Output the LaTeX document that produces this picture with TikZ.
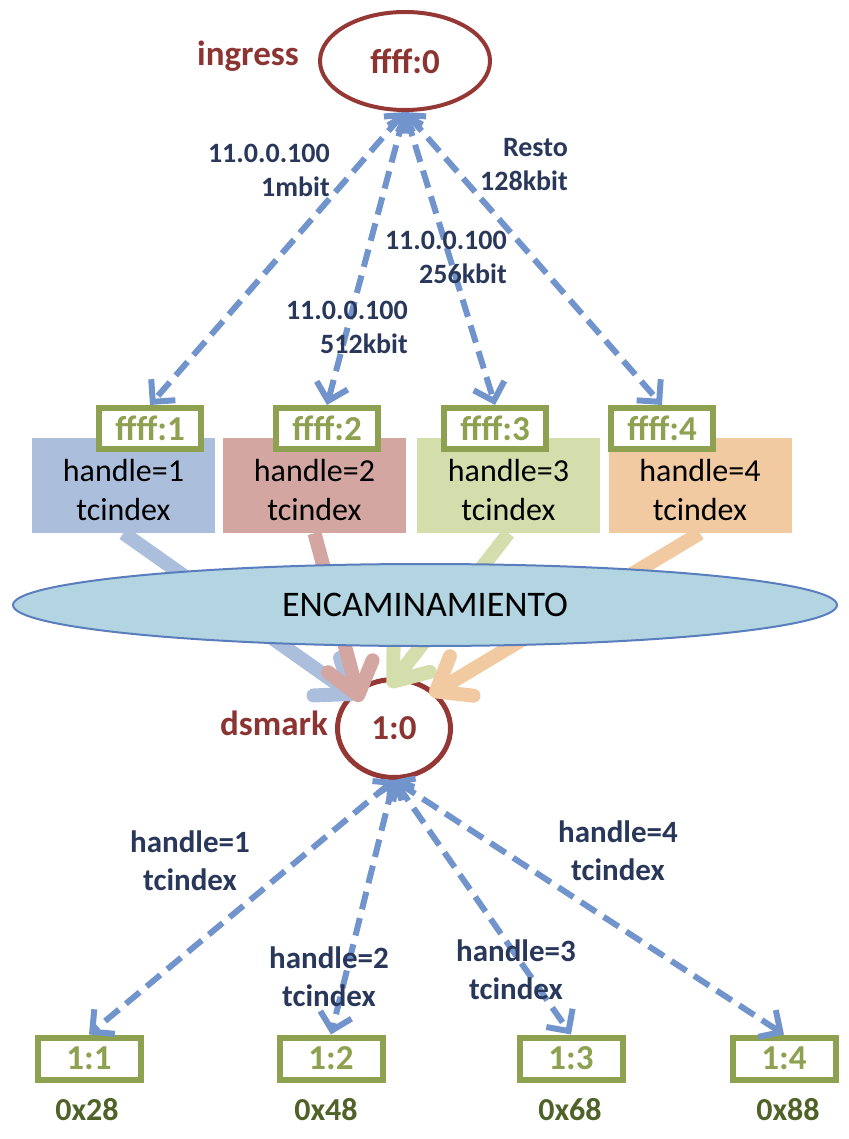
\documentclass[tikz,border=0pt]{standalone}
\usepackage{fontspec}
\setmainfont{Carlito}
\usetikzlibrary{arrows.meta,shapes.geometric}
\definecolor{brn}{RGB}{149,55,53}
\definecolor{brntxt}{RGB}{140,52,50}
\definecolor{dblue}{RGB}{114,148,204}
\definecolor{navy}{RGB}{41,56,90}
\definecolor{olv}{RGB}{142,161,80}
\definecolor{olvdark}{RGB}{79,98,40}
\definecolor{fA}{RGB}{171,191,221}
\definecolor{fB}{RGB}{211,166,162}
\definecolor{fC}{RGB}{212,222,173}
\definecolor{fD}{RGB}{241,202,161}
\definecolor{encfill}{RGB}{178,213,225}
\definecolor{encline}{RGB}{90,125,190}
\tikzset{
  qdisc/.style={ellipse, draw=brn, fill=white, inner sep=0pt, text=brntxt,
    font=\fontsize{35}{42}\selectfont\bfseries},
  qname/.style={text=brntxt, font=\fontsize{35}{42}\selectfont\bfseries, inner sep=0pt},
  filtbox/.style={rectangle, minimum width=183pt, minimum height=95pt, inner sep=0pt,
    align=center, text=black, font=\fontsize{32}{39}\selectfont},
  classbox/.style={rectangle, draw=olv, line width=6pt, fill=white, minimum width=102pt,
    minimum height=41pt, inner sep=0pt, text=olv, font=\fontsize{35}{42}\selectfont\bfseries},
  leafbox/.style={rectangle, draw=olv, line width=6pt, fill=white, minimum width=103pt,
    minimum height=42pt, inner sep=0pt, text=olv, font=\fontsize{35}{42}\selectfont\bfseries},
  dsfield/.style={text=olvdark, font=\fontsize{32}{38}\selectfont\bfseries, inner sep=0pt},
  dashlink/.style={draw=dblue, line width=6pt, dash pattern=on 18pt off 9pt,
    {Straight Barb[length=13pt,width=26pt]}-{Straight Barb[length=16pt,width=32pt]}},
  fatarrow/.style={line width=14pt, -{Straight Barb[length=30pt,width=46pt,round]}},
  ratelbl/.style={text=navy, align=right, inner sep=0pt, font=\fontsize{28}{34}\selectfont\bfseries},
  hlbl/.style={text=navy, align=center, inner sep=0pt, font=\fontsize{31}{38}\selectfont\bfseries},
}
\begin{document}
\begin{tikzpicture}[x=1pt,y=-1pt]
\useasboundingbox (0,0) rectangle (848,1139);

% ingress qdisc
\node[qdisc, line width=4pt, minimum width=170pt, minimum height=98pt] (ing) at (405,61) {\raisebox{-6pt}{ffff:0}};
\node[qname] (ingname) at (248,56) {ingress};

% filter boxes
\node[filtbox, fill=fA] (b1) at (123.5,485.5) {};
\node[filtbox, fill=fB] (b2) at (314.5,485.5) {};
\node[filtbox, fill=fC] (b3) at (508.5,485.5) {};
\node[filtbox, fill=fD] (b4) at (700,485.5) {};
\node[filtbox, minimum height=0pt] (t1) at (123.5,490) {handle=1\\tcindex};
\node[filtbox, minimum height=0pt] (t2) at (314.5,490) {handle=2\\tcindex};
\node[filtbox, minimum height=0pt] (t3) at (508.5,490) {handle=3\\tcindex};
\node[filtbox, minimum height=0pt] (t4) at (700,490) {handle=4\\tcindex};

% ingress classes
\node[classbox] (f1) at (150,428.5) {ffff:1};
\node[classbox] (f2) at (327,428.5) {ffff:2};
\node[classbox] (f3) at (495,428.5) {ffff:3};
\node[classbox] (f4) at (662,428.5) {ffff:4};

% dashed links ingress -> classes
\draw[dashlink] (ing.south) -- (f1.north);
\draw[dashlink] (ing.south) -- (f2.north);
\draw[dashlink] (ing.south) -- (f3.north);
\draw[dashlink] (ing.south) -- (f4.north);

\node[ratelbl, anchor=east] (r1) at (330,170) {11.0.0.100\\1mbit};
\node[ratelbl, anchor=east] (r4) at (568,165) {Resto\\128kbit};
\node[ratelbl, anchor=east] (r3) at (507,257) {11.0.0.100\\256kbit};
\node[ratelbl, anchor=east] (r2) at (408,327) {11.0.0.100\\512kbit};

% dsmark qdisc
\node[qdisc, line width=5pt, minimum width=113pt, minimum height=98pt] (ds) at (394,728.5) {\raisebox{-3pt}{1:0}};
\node[qname] (dsname) at (274,723) {dsmark};

% thick arrows into dsmark
\coordinate (tA) at (357,698);
\coordinate (tB) at (360,702);
\coordinate (tC) at (389,687);
\coordinate (tD) at (430,695);
\draw[fatarrow, draw=fA] (b1.south) -- (tA);
\draw[fatarrow, draw=fB] (b2.south) -- (tB);
\draw[fatarrow, draw=fC] (b3.south) -- (tC);
\draw[fatarrow, draw=fD] (b4.south) -- (tD);

% routing ellipse
\node[ellipse, draw=encline, line width=2pt, fill=encfill, minimum width=824pt,
  minimum height=82pt, inner sep=0pt, font=\fontsize{36}{43}\selectfont] (enc) at (425,605) {ENCAMINAMIENTO};

% dsmark classes
\node[leafbox] (c1) at (89,1058.5) {1:1};
\node[leafbox] (c2) at (331,1058.5) {1:2};
\node[leafbox] (c3) at (571,1058.5) {1:3};
\node[leafbox] (c4) at (784,1058.5) {1:4};

\draw[dashlink] (ds.south) -- (c1.north);
\draw[dashlink] (ds.south) -- (c2.north);
\draw[dashlink] (ds.south) -- (c3.north);
\draw[dashlink] (ds.south) -- (c4.north);

\node[hlbl] (h1) at (190,861) {handle=1\\tcindex};
\node[hlbl] (h4) at (618,851) {handle=4\\tcindex};
\node[hlbl] (h2) at (329,977) {handle=2\\tcindex};
\node[hlbl] (h3) at (516,970) {handle=3\\tcindex};

\node[dsfield] (d1) at (87,1110) {0x28};
\node[dsfield] (d2) at (326,1110) {0x48};
\node[dsfield] (d3) at (570,1110) {0x68};
\node[dsfield] (d4) at (788,1110) {0x88};
\end{tikzpicture}
\end{document}
